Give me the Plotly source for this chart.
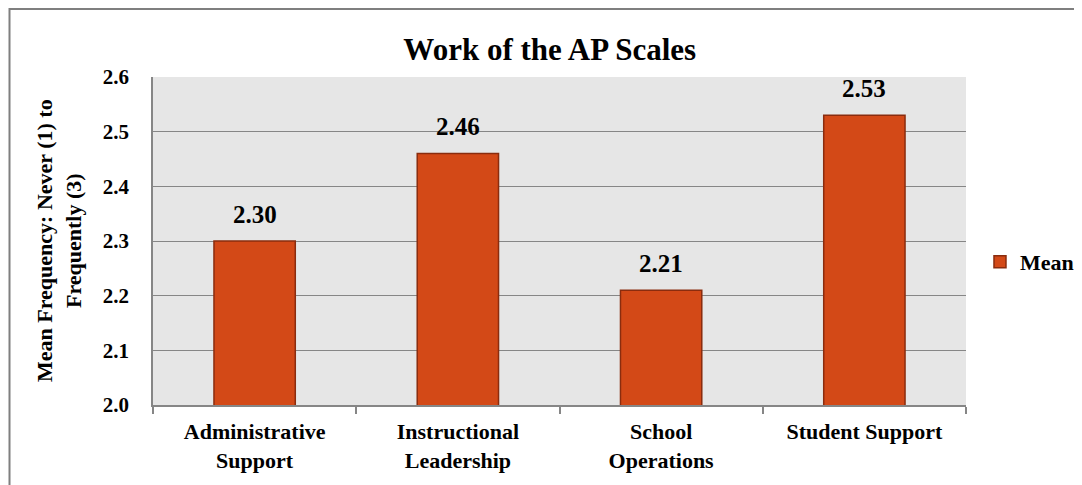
import plotly.graph_objects as go

categories = ["Administrative<br>Support", "Instructional<br>Leadership", "School<br>Operations", "Student Support"]
means = [2.30, 2.46, 2.21, 2.53]
y_ticks = [2.0, 2.1, 2.2, 2.3, 2.4, 2.5, 2.6]

FONT = "Liberation Serif"
BAR = "#d34917"
EDGE = "#8a2c0e"

# the page has an 8px body margin; the figure is made wider than the window so the
# legend never pushes the right margin (the overflow is simply cut off)
W, H = 1100, 477
L, T, B = 145, 69, 80
R = W - L - 813

fig = go.Figure()
fig.add_trace(
    go.Bar(
        x=categories,
        y=means,
        name="<b>Mean</b>",
        width=0.4,
        marker=dict(color=BAR, line=dict(color=EDGE, width=1.5)),
    )
)

# value labels above the bars
for cat, val in zip(categories, means):
    fig.add_annotation(
        x=cat, y=val, text=f"<b>{val:.2f}</b>", showarrow=False,
        yanchor="middle", yshift=27, font=dict(size=25, family=FONT, color="black"),
    )

# y axis title
fig.add_annotation(
    xref="paper", yref="paper", x=-0.1156, y=0.5,
    xanchor="center", yanchor="middle",
    text="<b>Mean Frequency: Never (1) to<br>Frequently (3)</b>",
    textangle=-90, showarrow=False, font=dict(size=22, family=FONT, color="black"),
)

# outer frame (runs off the right and bottom of the picture)
fig.add_shape(
    type="rect", xref="paper", yref="paper",
    x0=-0.1765, y0=-0.4, x1=1.3, y1=1.207,
    line=dict(color="#7f7f7f", width=2), fillcolor="rgba(0,0,0,0)", layer="below",
)

fig.update_layout(
    width=W,
    height=H,
    margin=dict(l=L, r=R, t=T, b=B),
    paper_bgcolor="white",
    plot_bgcolor="#e6e6e6",
    font=dict(family=FONT, color="black"),
    title=dict(
        text="<b>Work of the AP Scales</b>",
        font=dict(size=31, family=FONT, color="black"),
        xref="paper", x=0.488, xanchor="center", y=1 - 41 / H, yanchor="middle",
    ),
    showlegend=True,
    legend=dict(
        x=1.0172, y=0.436, xanchor="left", yanchor="middle",
        font=dict(size=22, family=FONT, color="black"),
        bgcolor="rgba(0,0,0,0)",
        itemwidth=30,
    ),
)

fig.update_yaxes(
    range=[2.0, 2.6],
    tickvals=y_ticks,
    ticktext=[f"<b>{v:.1f}</b>" for v in y_ticks],
    tickfont=dict(size=21, family=FONT, color="black"),
    showgrid=True,
    gridcolor="#868686",
    gridwidth=1,
    showline=True,
    linecolor="#868686",
    linewidth=1.5,
    zeroline=False,
    ticks="",
    ticklabelstandoff=18,
)

fig.update_xaxes(
    tickfont=dict(size=22, family=FONT, color="black"),
    tickvals=categories,
    ticktext=[f"<b>{c}</b>" for c in categories],
    showline=True,
    linecolor="#868686",
    linewidth=1.5,
    ticks="outside",
    tickson="boundaries",
    ticklen=7,
    tickcolor="#868686",
    tickwidth=1.5,
    showgrid=False,
    ticklabelstandoff=6,
)

fig.write_html("out.html")
